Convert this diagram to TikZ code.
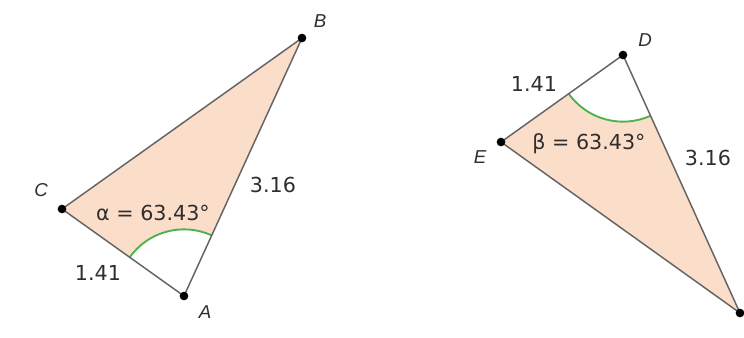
\documentclass[tikz,border=0pt]{standalone}
\usepackage{fontspec}
\setmainfont{Liberation Sans}
\newfontfamily\measfont{DejaVu Sans}
\usetikzlibrary{angles}
\definecolor{peach}{RGB}{251,222,201}
\definecolor{edge}{RGB}{100,100,100}
\definecolor{arcgreen}{RGB}{76,178,76}
\definecolor{txt}{RGB}{50,45,45}
\tikzset{
  vdot/.style={circle,fill=black,inner sep=0pt,minimum size=6.5pt},
  vlabel/.style={font=\fontsize{14}{16}\selectfont\itshape,text=txt,inner sep=1pt},
  mlabel/.style={font=\measfont\fontsize{15.5}{18}\selectfont,text=txt,inner sep=1pt},
  side/.style={draw=edge,line width=1.1pt,line join=round},
  wedge/.style={fill=white,angle radius=50pt},
  arcmark/.style={draw=arcgreen,line width=1.4pt,angle radius=50pt}
}
\begin{document}
\begin{tikzpicture}[x=0.75pt,y=-0.75pt]
\useasboundingbox (0,0) rectangle (744,337);
% vertices
\coordinate (A) at (184,296);
\coordinate (B) at (302,38);
\coordinate (C) at (62,209);
\coordinate (D) at (623,55);
\coordinate (E) at (501,142);
\coordinate (F) at (740,313);
% left triangle
\fill[peach] (A) -- (B) -- (C) -- cycle;
\pic[wedge] {angle=B--A--C};
\pic[arcmark] {angle=B--A--C};
\draw[side] (A) -- (B) -- (C) -- cycle;
% right triangle
\fill[peach] (D) -- (E) -- (F) -- cycle;
\pic[wedge] {angle=E--D--F};
\pic[arcmark] {angle=E--D--F};
\draw[side] (D) -- (E) -- (F) -- cycle;
% dots
\node[vdot] (dA) at (A) {};
\node[vdot] (dB) at (B) {};
\node[vdot] (dC) at (C) {};
\node[vdot] (dD) at (D) {};
\node[vdot] (dE) at (E) {};
\node[vdot] (dF) at (F) {};
% vertex labels
\node[vlabel] (lA) at (205,312) {A};
\node[vlabel] (lB) at (320,21) {B};
\node[vlabel] (lC) at (41,190) {C};
\node[vlabel] (lD) at (645,40) {D};
\node[vlabel] (lE) at (480,157) {E};
% measurements
\node[mlabel] (s1) at (273,185) {3.16};
\node[mlabel] (s2) at (98,273) {1.41};
\node[mlabel] (s3) at (534,84) {1.41};
\node[mlabel] (s4) at (708,158) {3.16};
\node[mlabel] (al) at (153,213) {α = 63.43°};
\node[mlabel] (be) at (589,144) {β = 63.43°};
\end{tikzpicture}
\end{document}
